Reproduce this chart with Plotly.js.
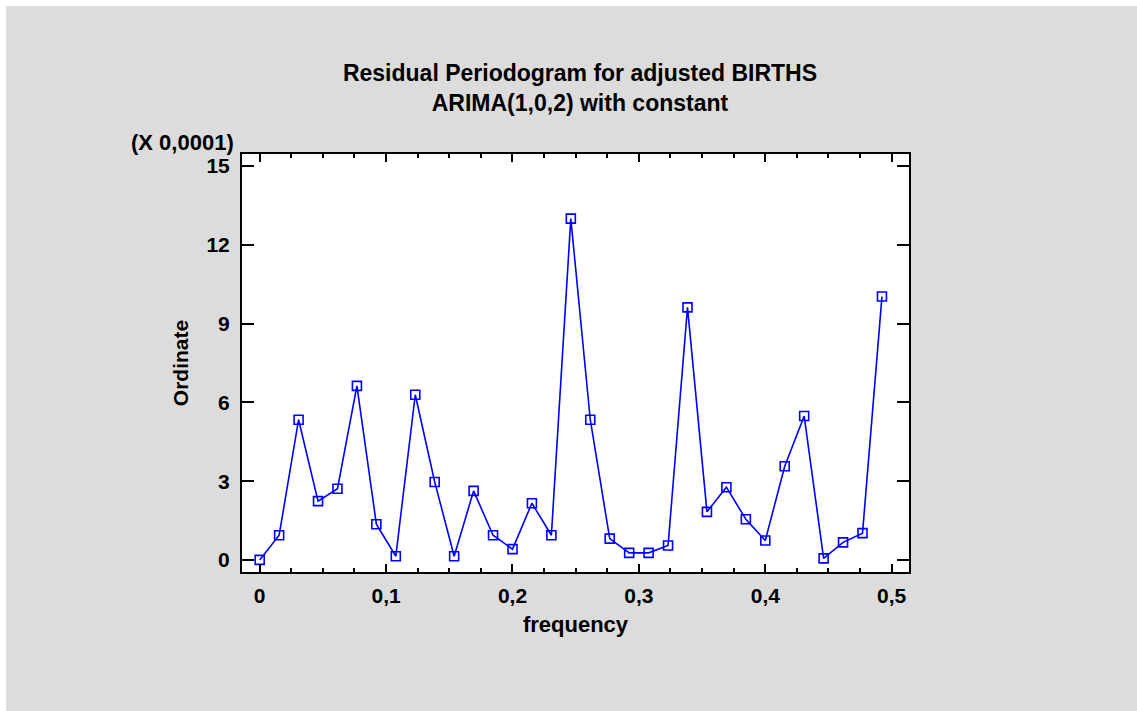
<!DOCTYPE html>
<html>
<head>
<meta charset="utf-8">
<script src="https://cdn.plot.ly/plotly-3.0.1.min.js"></script>
<style>
  html, body { margin: 0; padding: 0; background: #ffffff; width: 1137px; height: 711px; overflow: hidden; }
  #chart { position: absolute; left: 6px; top: 6px; width: 1131px; height: 705px; }
</style>
</head>
<body>
<div id="chart"></div>
<script>
// Frequencies (cycles per observation)
const frequency = [0, 0.01538, 0.03077, 0.04615, 0.06154, 0.07692, 0.09231, 0.10769,
  0.12308, 0.13846, 0.15385, 0.16923, 0.18462, 0.2, 0.21538, 0.23077, 0.24615,
  0.26154, 0.27692, 0.29231, 0.30769, 0.32308, 0.33846, 0.35385, 0.36923,
  0.38462, 0.4, 0.41538, 0.43077, 0.44615, 0.46154, 0.47692, 0.49231];
// Periodogram ordinate (in units of 0.0001)
const ordinate = [0.0, 0.94, 5.34, 2.24, 2.71, 6.63, 1.36, 0.14,
  6.29, 2.97, 0.14, 2.63, 0.94, 0.41, 2.16, 0.94, 13.0,
  5.34, 0.81, 0.27, 0.27, 0.55, 9.62, 1.83, 2.77,
  1.55, 0.74, 3.57, 5.48, 0.06, 0.67, 1.02, 10.03];
const xTicks = [0, 0.1, 0.2, 0.3, 0.4, 0.5];
const xMinorTicks = [0.025, 0.05, 0.075, 0.125, 0.15, 0.175, 0.225, 0.25, 0.275,
  0.325, 0.35, 0.375, 0.425, 0.45, 0.475];
const yTicks = [0, 3, 6, 9, 12, 15];

const font = 'Liberation Sans, Arial, sans-serif';

const trace = {
  x: frequency, y: ordinate, type: 'scatter', mode: 'lines+markers',
  line: { color: '#0000ff', width: 1.6 },
  marker: { symbol: 'square-open', size: 9, color: '#0000ff', line: { width: 1.6, color: '#0000ff' } },
  hoverinfo: 'x+y'
};

const layout = {
  width: 1131, height: 705,
  paper_bgcolor: '#dcdcdc', plot_bgcolor: '#ffffff',
  separators: ',.',
  margin: { l: 236, r: 228, t: 148, b: 139 },
  showlegend: false,
  title: {
    text: '<b>Residual Periodogram for adjusted BIRTHS</b><br><b>ARIMA(1,0,2) with constant</b>',
    font: { family: font, size: 23, color: '#000' },
    x: 0.5075, xanchor: 'center', y: 0.893, yanchor: 'top'
  },
  xaxis: {
    range: [-0.014, 0.5137],
    tickvals: xTicks, ticktext: xTicks.map(v => String(v).replace('.', ',')),
    ticks: 'inside', ticklen: 8, tickwidth: 2, tickcolor: '#000',
    minor: { tickvals: xMinorTicks, ticks: 'inside', ticklen: 4, tickwidth: 2, tickcolor: '#000', showgrid: false },
    showline: true, linewidth: 2, linecolor: '#000', mirror: 'allticks',
    showgrid: false, zeroline: false,
    tickfont: { family: font, size: 21, color: '#000', weight: 'bold' },
    ticklabelstandoff: 4,
    title: { text: '<b>frequency</b>', font: { family: font, size: 22, color: '#000' }, standoff: 10 }
  },
  yaxis: {
    range: [-0.46, 15.46],
    tickvals: yTicks, ticktext: yTicks.map(String),
    ticks: 'inside', ticklen: 12, tickwidth: 2, tickcolor: '#000',
    showline: true, linewidth: 2, linecolor: '#000', mirror: 'allticks',
    showgrid: false, zeroline: false,
    tickfont: { family: font, size: 21, color: '#000', weight: 'bold' },
    ticklabelstandoff: 6,
    title: { text: '<b>Ordinate</b>', font: { family: font, size: 21, color: '#000' }, standoff: 12 }
  },
  annotations: [{
    text: '<b>(X 0,0001)</b>', xref: 'paper', yref: 'paper', x: 0, y: 1,
    xanchor: 'right', yanchor: 'bottom', xshift: -6, yshift: -3, showarrow: false,
    font: { family: font, size: 22, color: '#000' }
  }]
};

Plotly.newPlot('chart', [trace], layout, { displayModeBar: false, staticPlot: true });
</script>
</body>
</html>
